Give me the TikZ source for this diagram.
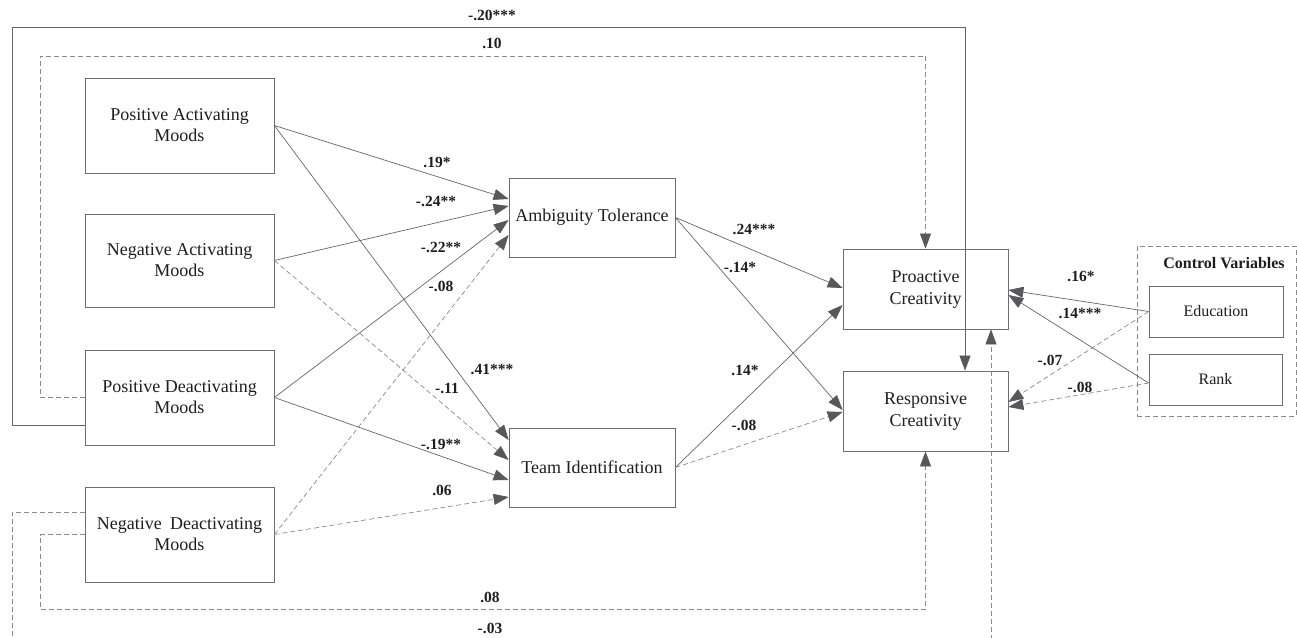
\documentclass[tikz,border=0pt]{standalone}
\usepackage{fontspec}
\setmainfont{Liberation Serif}
\usetikzlibrary{arrows.meta,calc}
\definecolor{boxc}{HTML}{6E6E6E}
\definecolor{linec}{HTML}{656565}
\definecolor{dashc}{HTML}{8A8A8A}
\definecolor{tipc}{HTML}{58585A}
\definecolor{txtc}{HTML}{1E1E1E}
\begin{document}
\begin{tikzpicture}[x=1pt,y=-1pt,
  mbox/.style={draw=boxc, line width=0.8pt, minimum width=189pt, minimum height=95pt,
    align=center, font=\fontsize{18}{21}\selectfont, text=txtc, inner sep=0pt},
  sbox/.style={draw=boxc, line width=0.8pt, minimum width=134pt, minimum height=51pt,
    align=center, font=\fontsize{16}{18}\selectfont, text=txtc, inner sep=0pt},
  spath/.style={draw=linec, line width=0.7pt, -{Triangle[length=15pt,width=11pt,color=tipc]}},
  dpath/.style={spath, draw=dashc, dash pattern=on 5pt off 3pt},
  coef/.style={font=\fontsize{15.5}{17}\selectfont\bfseries, text=txtc, inner sep=0pt}]
\useasboundingbox (0,0) rectangle (1297,637);
\clip (0,0) rectangle (1297,637);

% boxes
\node[mbox] (pam) at (179.5,125.5) {Positive Activating\\Moods};
\node[mbox, minimum height=93pt] (nam) at (179.5,260.5) {Negative Activating\\Moods};
\node[mbox] (pdm) at (179.5,397.5) {Positive Deactivating\\Moods};
\node[mbox] (ndm) at (179.5,534.5) {Negative\hspace{0.45em}Deactivating\\Moods};
\node[mbox, minimum width=166pt, minimum height=79pt] (at) at (592,217.5) {Ambiguity Tolerance};
\node[mbox, minimum width=166pt, minimum height=79pt] (ti) at (592,467.5) {Team Identification};
\node[mbox, minimum width=165pt, minimum height=80pt, font=\fontsize{18}{22}\selectfont] (pc) at (925.5,289) {Proactive\\Creativity};
\node[mbox, minimum width=165pt, minimum height=80pt, font=\fontsize{18}{22}\selectfont] (rc) at (925.5,411) {Responsive\\Creativity};
\node[draw=dashc, line width=0.8pt, dash pattern=on 5pt off 3pt, minimum width=159pt, minimum height=170pt, inner sep=0pt] (ctrl) at (1216.5,331) {};
\node[coef, font=\fontsize{16}{18}\selectfont\bfseries] (ctrllab) at (1224,263) {Control Variables};
\node[sbox] (edu) at (1216,311.5) {Education};
\node[sbox, minimum width=133pt] (rank) at (1215.5,379.5) {Rank};

% corner coordinates of the loops
\coordinate (c1) at (12,27);
\coordinate (c2) at (40,56);
\coordinate (c3) at (40,609);
\coordinate (c4) at (12,650);

% loops
\draw[spath] ($(pdm.west)+(0,27.5)$) -| (c1) -| ($(rc.north)+(39.5,0)$);
\draw[dpath] (pdm.west) -| (c2) -| (pc.north);
\draw[dpath] (ndm.west) -| (c3) -| (rc.south);
\draw[dpath] ($(ndm.west)+(0,-22.5)$) -| (c4) -| ($(pc.south)+(65.5,0)$);

% moods -> mediators
\draw[spath] (pam.east) -- ($(at.west)+(0,-18.5)$);
\draw[spath] (nam.east) -- ($(at.west)+(0,-11.5)$);
\draw[spath] (pdm.east) -- ($(at.west)+(0,2.5)$);
\draw[dpath] (ndm.east) -- ($(at.west)+(0,17.5)$);
\draw[spath] (pam.east) -- ($(ti.west)+(0,-27.5)$);
\draw[dpath] (nam.east) -- ($(ti.west)+(0,-7.5)$);
\draw[spath] (pdm.east) -- ($(ti.west)+(0,12.5)$);
\draw[dpath] (ndm.east) -- ($(ti.west)+(0,29.5)$);

% mediators -> outcomes
\draw[spath] (at.east) -- ($(pc.west)+(0,-1)$);
\draw[spath] (at.east) -- ($(rc.west)+(0,-1)$);
\draw[spath] (ti.east) -- ($(pc.west)+(0,16)$);
\draw[dpath] (ti.east) -- ($(rc.west)+(0,1)$);

% controls -> outcomes
\draw[spath] (edu.west) -- ($(pc.east)+(0,1)$);
\draw[spath] ($(rank.west)+(0,3.5)$) -- ($(pc.east)+(0,6)$);
\draw[dpath] (edu.west) -- ($(rc.east)+(0,-9)$);
\draw[dpath] ($(rank.west)+(0,3.5)$) -- ($(rc.east)+(0,-4)$);

% coefficients
\node[coef] (l1) at (492,15) {-.20***};
\node[coef] (l2) at (492,43) {.10};
\node[coef] (l3) at (490,597) {.08};
\node[coef] (l4) at (490,628) {-.03};
\node[coef] (l5) at (437,162) {.19*};
\node[coef] (l6) at (436,201) {-.24**};
\node[coef] (l7) at (441,247) {-.22**};
\node[coef] (l8) at (441,286) {-.08};
\node[coef] (l9) at (492,369) {.41***};
\node[coef] (l10) at (447,388) {-.11};
\node[coef] (l11) at (441,444) {-.19**};
\node[coef] (l12) at (442,490) {.06};
\node[coef] (l13) at (754,229) {.24***};
\node[coef] (l14) at (740,267) {-.14*};
\node[coef] (l15) at (745,370) {.14*};
\node[coef] (l16) at (744,425) {-.08};
\node[coef] (l17) at (1081,276) {.16*};
\node[coef] (l18) at (1080,313) {.14***};
\node[coef] (l19) at (1050,360) {-.07};
\node[coef] (l20) at (1080,387) {-.08};
\end{tikzpicture}
\end{document}
